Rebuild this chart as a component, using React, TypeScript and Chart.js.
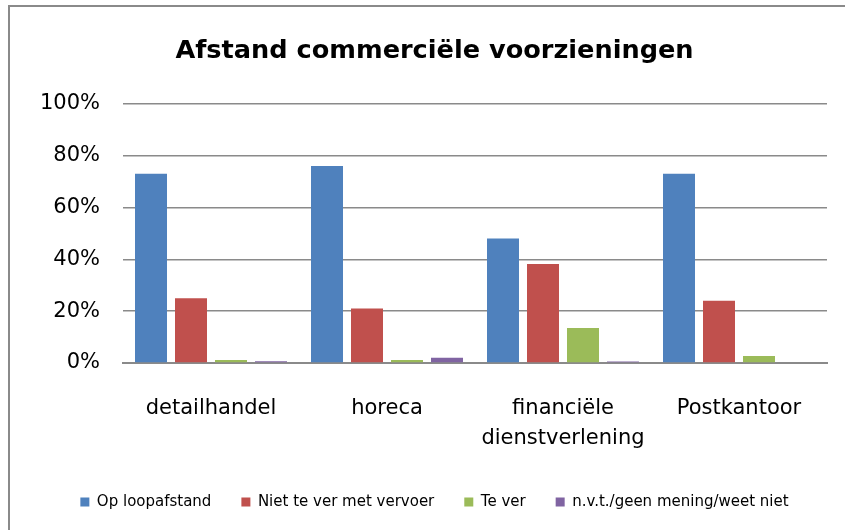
import React, { useEffect, useRef } from "react";
import { Chart, registerables } from "chart.js";

Chart.register(...registerables);

const categories: (string | string[])[] = [
  "detailhandel",
  "horeca",
  ["financiële", "dienstverlening"],
  "Postkantoor",
];
const opLoopafstand = [73, 76, 48, 73];
const nietTeVer = [25, 21, 38.2, 24];
const teVer = [1.2, 1.2, 13.5, 2.7];
const nvt = [0.7, 2.0, 0.6, 0];
const yTicks = [0, 20, 40, 60, 80, 100];

const FONT = "'DejaVu Sans', sans-serif";

// let the y tick labels extend into the left layout padding without clipping
const unclipYLabels = {
  id: "unclipYLabels",
  afterLayout(chart: any) {
    if (chart.scales.y) chart.scales.y.left = 0;
  },
};

export default function App() {
  const ref = useRef<HTMLCanvasElement | null>(null);
  useEffect(() => {
    document.body.style.margin = "0";
    const ctx = ref.current!.getContext("2d")!;
    const chart = new Chart(ctx, {
      type: "bar",
      data: {
        labels: categories,
        datasets: [
          { label: "Op loopafstand", data: opLoopafstand, backgroundColor: "#4F81BD" },
          { label: "Niet te ver met vervoer", data: nietTeVer, backgroundColor: "#C0504D" },
          { label: "Te ver", data: teVer, backgroundColor: "#9BBB59" },
          { label: "n.v.t./geen mening/weet niet", data: nvt, backgroundColor: "#8064A2" },
        ],
      },
      plugins: [unclipYLabels],
      options: {
        animation: false,
        responsive: false,
        datasets: { bar: { categoryPercentage: 0.909, barPercentage: 0.8 } },
        layout: { padding: { left: 42, right: 18, top: 14, bottom: 10.5 } },
        plugins: {
          title: {
            display: true,
            text: "Afstand commerciële voorzieningen",
            color: "#000",
            font: { family: FONT, size: 25.6, weight: "bold" },
            padding: { top: 22, bottom: 37 },
          },
          legend: {
            position: "bottom",
            labels: {
              color: "#000",
              font: { family: FONT, size: 15 },
              boxWidth: 9,
              boxHeight: 9,
              padding: 30,
            },
          },
          tooltip: { enabled: false },
        },
        scales: {
          x: {
            grid: { display: false },
            border: { display: true, color: "#8a8a8a", width: 2 },
            afterFit: (axis: any) => {
              axis.height = 101.5;
            },
            ticks: {
              color: "#000",
              font: { family: FONT, size: 21, lineHeight: 1.4 },
              padding: 23,
              maxRotation: 0,
              autoSkip: false,
            },
          },
          y: {
            min: 0,
            max: 100,
            afterBuildTicks: (axis: any) => {
              axis.ticks = yTicks.map((v) => ({ value: v }));
            },
            afterFit: (axis: any) => {
              axis.width = 81;
            },
            grid: { color: "#8a8a8a", lineWidth: 1.5, drawTicks: false },
            border: { display: false },
            ticks: {
              color: "#000",
              font: { family: FONT, size: 21 },
              padding: 23,
              callback: (v: any) => v + "%",
            },
          },
        },
      },
    });
    return () => chart.destroy();
  }, []);
  return (
    <div style={{ position: "relative", width: 845, height: 530, overflow: "hidden", background: "#fff" }}>
      <div
        style={{
          position: "absolute",
          left: 8,
          top: 5,
          width: 900,
          height: 600,
          borderLeft: "2px solid #8a8a8a",
          borderTop: "2px solid #8a8a8a",
        }}
      />
      <canvas ref={ref} width={845} height={530} style={{ position: "absolute", left: 0, top: 0 }} />
    </div>
  );
}
